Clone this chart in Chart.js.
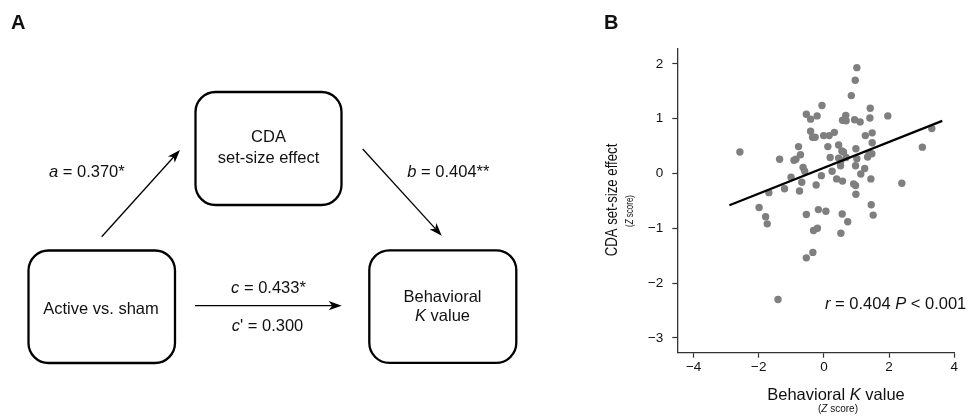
<!DOCTYPE html>
<html>
<head>
<meta charset="utf-8">
<script src="https://cdn.jsdelivr.net/npm/chart.js@4.4.1/dist/chart.umd.min.js"></script>
<style>
	html, body { margin: 0; padding: 0; background: #fff; }
	#wrap { position: relative; width: 969px; height: 417px; overflow: hidden; }
	#chartB, #panelA { position: absolute; left: 0; top: 0; }
	#panelA text { font-family: "Liberation Sans", Arial, sans-serif; font-size: 16.5px; fill: #111; }
</style>
</head>
<body>
<div id="wrap">
	<canvas id="chartB" width="969" height="417"></canvas>
	<svg id="panelA" width="560" height="417" xmlns="http://www.w3.org/2000/svg">
		<text x="11" y="29.3" style="font-weight:bold;font-size:20px">A</text>

		<rect x="195.5" y="92" width="146" height="113" rx="20" fill="none" stroke="#000" stroke-width="2.3"/>
		<rect x="28.5" y="250.5" width="146.5" height="112.5" rx="20" fill="none" stroke="#000" stroke-width="2.3"/>
		<rect x="369.3" y="250.3" width="147" height="112.5" rx="20" fill="none" stroke="#000" stroke-width="2.3"/>

		<text x="268.5" y="141.7" text-anchor="middle">CDA</text>
		<text x="268.5" y="163" text-anchor="middle">set-size effect</text>
		<text x="101" y="314.3" text-anchor="middle">Active vs. sham</text>
		<text x="442.5" y="301.7" text-anchor="middle">Behavioral</text>
		<text x="442.5" y="321" text-anchor="middle"><tspan font-style="italic">K</tspan> value</text>

		<text x="49" y="177.3"><tspan font-style="italic">a</tspan> = 0.370*</text>
		<text x="407.3" y="177.3"><tspan font-style="italic">b</tspan> = 0.404**</text>
		<text x="268.5" y="292.7" text-anchor="middle"><tspan font-style="italic">c</tspan> = 0.433*</text>
		<text x="267.5" y="331" text-anchor="middle"><tspan font-style="italic">c</tspan>' = 0.300</text>
		<g id="arrows"></g>
	</svg>
</div>
<script>
// scatter data (Z scores)
const kScore = [
	-0.54, -0.41, -0.21, -0.06, -0.41, -0.35, -0.27, -2.58, -0.78, -1.36,
	-0.92, -0.86, -0.72, -0.64, -0.59, -1.01, -0.68, 1.01, 0.96, 0.84,
	1.42, 0.67, 0.57, 0.68, 0.94, 1.11, 1.41, 1.96, -0.01, 0.16,
	0.32, 1.27, 1.48, 3.31, 3.02, 0.12, 0.45, 0.55, 0.60, 0.98,
	1.48, 0.19, 0.45, 0.52, 0.68, 1.01, 1.39, 1.47, 1.34, 0.51,
	0.97, 1.25, 1.13, -0.08, 0.25, 0.39, 0.57, -0.24, 0.91, 0.97,
	1.44, 2.39, 0.98, -0.17, 0.06, 0.56, 1.45, 1.51, 0.73, -0.20,
	-0.32, 0.52, -0.34, -1.21, -1.69, -0.75, -1.99, -1.79, -1.74, -0.54,
	-0.54, -1.41
];
const cdaScore = [
	1.08, 0.99, 1.05, 1.24, 0.77, 0.66, 0.66, 0.39, 0.49, 0.26,
	0.24, 0.26, 0.34, 0.11, 0.04, -0.07, -0.16, 1.93, 1.70, 1.42,
	1.19, 1.06, 0.97, 0.96, 0.98, 0.94, 1.01, 1.05, 0.69, 0.69,
	0.75, 0.69, 0.74, 0.82, 0.48, 0.49, 0.52, 0.41, 0.39, 0.45,
	0.56, 0.29, 0.28, 0.23, 0.29, 0.27, 0.36, 0.36, 0.30, 0.14,
	0.14, 0.09, -0.01, -0.04, 0.04, -0.10, -0.14, -0.21, -0.19, -0.22,
	-0.10, -0.18, -0.38, -0.66, -0.69, -0.74, -0.57, -0.76, -0.88, -1.00,
	-1.04, -1.09, -1.44, -0.28, -0.35, -0.32, -0.62, -0.79, -0.92, -0.75,
	-1.54, -2.30
];
// fitted line end points
const fitX = [-2.9, 3.63];
const fitY = [-0.58, 0.96];

const xTicks = [-4, -2, 0, 2, 4];
const yTicks = [-3, -2, -1, 0, 1, 2];

const FONT = '"Liberation Sans", Arial, sans-serif';

// arrows of panel A: [x1, y1, tipX, tipY]
const arrows = [
	[101.7, 236.7, 180, 150],
	[362.7, 149, 441.7, 235.7],
	[195, 305.7, 341.7, 305.7],
];

const g = document.getElementById("arrows");
arrows.forEach(function (a) {
	const dx = a[2] - a[0], dy = a[3] - a[1];
	const len = Math.sqrt(dx * dx + dy * dy);
	const ux = dx / len, uy = dy / len, px = -uy, py = ux;
	const L = 13, W = 4.6, notch = 3.5;
	const bx = a[2] - ux * L, by = a[3] - uy * L;
	const nx = a[2] - ux * (L - notch), ny = a[3] - uy * (L - notch);
	const line = document.createElementNS("http://www.w3.org/2000/svg", "line");
	line.setAttribute("x1", a[0]); line.setAttribute("y1", a[1]);
	line.setAttribute("x2", nx); line.setAttribute("y2", ny);
	line.setAttribute("stroke", "#000"); line.setAttribute("stroke-width", "1.3");
	g.appendChild(line);
	const head = document.createElementNS("http://www.w3.org/2000/svg", "polygon");
	head.setAttribute("points", [
		a[2] + "," + a[3],
		(bx + px * W) + "," + (by + py * W),
		nx + "," + ny,
		(bx - px * W) + "," + (by - py * W),
	].join(" "));
	head.setAttribute("fill", "#000");
	g.appendChild(head);
});

function drawRuns(ctx, runs, x, y, size, align) {
	let total = 0;
	runs.forEach(function (r) {
		ctx.font = (r.i ? "italic " : "") + size + "px " + FONT;
		r.w = ctx.measureText(r.t).width;
		total += r.w;
	});
	let cx = align === "center" ? x - total / 2 : x;
	runs.forEach(function (r) {
		ctx.font = (r.i ? "italic " : "") + size + "px " + FONT;
		ctx.fillText(r.t, cx, y);
		cx += r.w;
	});
}

const labelsPlugin = {
	id: "labelsB",
	afterDraw: function (chart) {
		const ctx = chart.ctx;
		ctx.save();
		ctx.fillStyle = "#111";
		ctx.textAlign = "left";
		ctx.textBaseline = "alphabetic";

		ctx.font = "bold 20px " + FONT;
		ctx.fillText("B", 604, 29.3);

		drawRuns(ctx, [{ t: "Behavioral " }, { t: "K", i: true }, { t: " value" }], 836, 400, 16.5, "center");
		drawRuns(ctx, [{ t: "(" }, { t: "Z", i: true }, { t: " score)" }], 838, 412, 10, "center");

		ctx.save();
		ctx.translate(617.3, 200);
		ctx.rotate(-Math.PI / 2);
		ctx.scale(0.8, 1);
		drawRuns(ctx, [{ t: "CDA set-size effect" }], 0, 0, 16.5, "center");
		ctx.restore();

		ctx.save();
		ctx.translate(633, 211);
		ctx.rotate(-Math.PI / 2);
		ctx.scale(0.8, 1);
		drawRuns(ctx, [{ t: "(" }, { t: "Z", i: true }, { t: " score)" }], 0, 0, 10, "center");
		ctx.restore();

		drawRuns(ctx, [{ t: "r", i: true }, { t: " = 0.404 " }, { t: "P", i: true }, { t: " < 0.001" }], 825, 308.5, 16.5, "left");
		ctx.restore();
	},
};

const minus = function (v) {
	return String(v).replace("-", "\u2212");
};

const points = kScore.map(function (x, i) {
	return { x: x, y: cdaScore[i] };
});
const fitLine = fitX.map(function (x, i) {
	return { x: x, y: fitY[i] };
});

new Chart(document.getElementById("chartB"), {
	type: "scatter",
	data: {
		datasets: [
			{
				data: fitLine,
				showLine: true,
				borderColor: "#000",
				borderWidth: 2.3,
				pointRadius: 0,
				order: 0,
			},
			{
				data: points,
				backgroundColor: "#7f7f7f",
				borderWidth: 0,
				pointRadius: 3.7,
				order: 1,
			},
		],
	},
	options: {
		responsive: false,
		animation: false,
		events: [],
		layout: { padding: { left: 560, top: 49, right: 14.7, bottom: 0 } },
		plugins: { legend: { display: false }, tooltip: { enabled: false } },
		scales: {
			x: {
				min: -4.5,
				max: 4,
				afterBuildTicks: function (s) {
					s.ticks = xTicks.map(function (v) { return { value: v }; });
				},
				afterFit: function (s) { s.height = 64.3; },
				border: { display: true, color: "#333", width: 1.3 },
				grid: { drawOnChartArea: false, tickLength: 5, color: "#333", tickWidth: 1.2 },
				ticks: {
					padding: 1,
					color: "#111",
					font: { family: FONT, size: 13.5 },
					maxRotation: 0,
					callback: minus,
				},
			},
			y: {
				min: -3.27,
				max: 2.27,
				afterBuildTicks: function (s) {
					s.ticks = yTicks.map(function (v) { return { value: v }; });
				},
				afterFit: function (s) { s.width = 117.3; },
				border: { display: true, color: "#333", width: 1.3 },
				grid: { drawOnChartArea: false, tickLength: 5, color: "#333", tickWidth: 1.2 },
				ticks: {
					padding: 9,
					color: "#111",
					font: { family: FONT, size: 13.5 },
					callback: minus,
				},
			},
		},
	},
	plugins: [labelsPlugin],
});
</script>
</body>
</html>
